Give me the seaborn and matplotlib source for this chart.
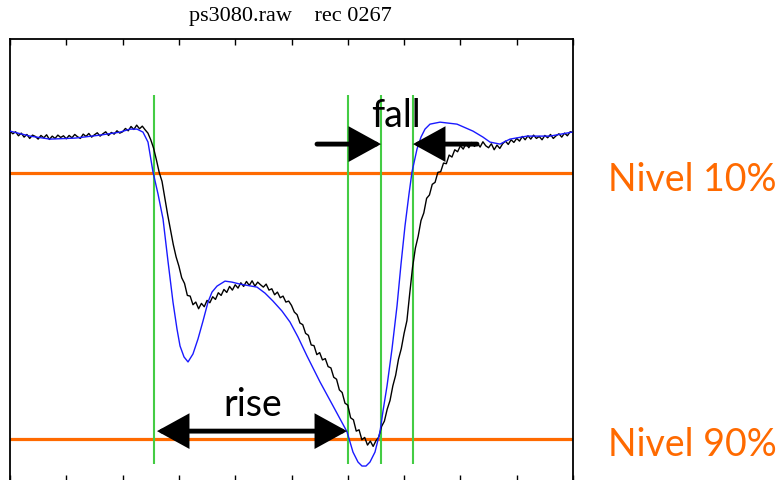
import numpy as np
import pandas as pd
import matplotlib
matplotlib.use("Agg")
import matplotlib.pyplot as plt
from matplotlib.patches import FancyArrowPatch
import seaborn as sns

# fitted model (blue), time in ms, amplitude relative to step height
fit_t = [0.0, 0.355, 0.71, 1.155, 1.599, 1.954, 2.131, 2.256, 2.362, 2.451,
         2.54, 2.629, 2.718, 2.806, 2.895, 2.966, 3.02, 3.091, 3.162, 3.25,
         3.339, 3.428, 3.517, 3.588, 3.677, 3.819, 3.943, 4.085, 4.387, 4.529,
         4.671, 4.831, 4.973, 5.115, 5.275, 5.506, 5.737, 5.986, 6.092, 6.181,
         6.252, 6.323, 6.394, 6.483, 6.572, 6.625, 6.696, 6.785, 6.874, 6.945,
         7.016, 7.087, 7.14, 7.229, 7.3, 7.371, 7.46, 7.638, 7.94, 8.224,
         8.401, 8.526, 8.703, 8.881, 9.183, 9.591, 9.982]
fit_amp = [0.026, 0.011, 0.002, 0.005, 0.014, 0.023, 0.032, 0.032, 0.023, -0.007,
           -0.097, -0.163, -0.238, -0.365, -0.488, -0.569, -0.62, -0.653, -0.668, -0.644,
           -0.599, -0.545, -0.488, -0.458, -0.44, -0.425, -0.428, -0.434, -0.443, -0.461,
           -0.485, -0.515, -0.548, -0.593, -0.65, -0.728, -0.8, -0.878, -0.939, -0.969,
           -0.981, -0.981, -0.969, -0.939, -0.878, -0.816, -0.741, -0.629, -0.5, -0.374,
           -0.259, -0.163, -0.097, -0.028, 0.008, 0.032, 0.047, 0.053, 0.047, 0.026,
           0.008, -0.007, -0.013, 0.002, 0.011, 0.011, 0.023]

# measured trace (black), sampled every 0.05 ms from 0 to 10 ms
meas_amp = [
    0.026, 0.018, 0.024, 0.012, 0.020, 0.008, 0.016, 0.004, 0.014, 0.010,
    0.002, 0.013, 0.006, 0.015, 0.001, 0.011, 0.004, 0.014, 0.007, 0.012,
    0.003, 0.013, 0.006, 0.016, 0.009, 0.004, 0.017, 0.010, 0.019, 0.008,
    0.015, 0.021, 0.011, 0.018, 0.024, 0.013, 0.022, 0.017, 0.027, 0.020,
    0.024, 0.034, 0.027, 0.040, 0.031, 0.044, 0.033, 0.041, 0.030, 0.020,
    0.000, -0.025, -0.060, -0.098, -0.125, -0.175, -0.225, -0.270, -0.315, -0.352,
    -0.380, -0.415, -0.432, -0.468, -0.470, -0.496, -0.488, -0.508, -0.492, -0.502,
    -0.483, -0.490, -0.472, -0.480, -0.460, -0.468, -0.450, -0.459, -0.441, -0.452,
    -0.436, -0.446, -0.430, -0.441, -0.426, -0.438, -0.424, -0.440, -0.428, -0.436,
    -0.443, -0.434, -0.452, -0.448, -0.466, -0.458, -0.475, -0.470, -0.488, -0.485,
    -0.498, -0.518, -0.526, -0.551, -0.556, -0.582, -0.588, -0.617, -0.619, -0.646,
    -0.640, -0.662, -0.658, -0.682, -0.686, -0.714, -0.720, -0.752, -0.760, -0.792,
    -0.798, -0.836, -0.842, -0.876, -0.872, -0.902, -0.895, -0.918, -0.906, -0.922,
    -0.905, -0.894, -0.862, -0.846, -0.810, -0.784, -0.740, -0.708, -0.660, -0.628,
    -0.582, -0.544, -0.462, -0.384, -0.326, -0.290, -0.243, -0.220, -0.176, -0.166,
    -0.134, -0.128, -0.098, -0.096, -0.070, -0.072, -0.046, -0.052, -0.030, -0.036,
    -0.018, -0.028, -0.012, -0.024, -0.008, -0.020, -0.010, -0.022, -0.006, -0.018,
    -0.024, -0.012, -0.030, -0.016, -0.026, -0.012, -0.004, -0.014, 0.000, -0.008,
    0.004, -0.004, 0.010, 0.000, 0.012, 0.002, 0.014, 0.004, 0.010, 0.000,
    0.013, 0.006, 0.016, 0.004, 0.012, 0.018, 0.008, 0.020, 0.012, 0.024, 0.022]
meas_t = np.linspace(0, 10, len(meas_amp))

level_values = [-0.1, -0.9]
level_labels = ["Nivel 10%", "Nivel 90%"]
marker_times = [2.558, 6.003, 6.59, 7.158]   # green crossing markers
rise_span = (2.611, 5.986)
fall_span = (6.59, 7.158)

ORANGE = "#ff6a00"
GREEN = "#44cc44"
BLUE = "#1a1aff"

sns.set_style("white")
plt.rcParams["font.family"] = ["Lato", "DejaVu Sans"]
plt.rcParams["text.color"] = "black"

fig = plt.figure(figsize=(7.79, 4.81), dpi=100)
ax = fig.add_axes([10 / 779, -1 / 481, 563 / 779, 442 / 481])

for y in level_values:
    ax.axhline(y, color=ORANGE, lw=2.3, zorder=1)
ax.vlines(marker_times, -0.975, 0.135, color=GREEN, lw=1.5, zorder=2)

meas = pd.DataFrame({"t": meas_t, "amp": meas_amp})
fit = pd.DataFrame({"t": fit_t, "amp": fit_amp})
sns.lineplot(data=meas, x="t", y="amp", color="black", lw=1.0, ax=ax, zorder=3)
sns.lineplot(data=fit, x="t", y="amp", color=BLUE, lw=1.0, ax=ax, zorder=4)

arrow_kw = dict(mutation_scale=18, color="black", lw=3.5, shrinkA=0, shrinkB=0,
                zorder=5, joinstyle="miter")
ax.add_patch(FancyArrowPatch((rise_span[0], -0.876), (rise_span[1], -0.876),
                             arrowstyle="<|-|>,head_length=1.0,head_width=0.55", **arrow_kw))
ax.add_patch(FancyArrowPatch((5.453, -0.013), (fall_span[0], -0.013),
                             arrowstyle="-|>,head_length=1.0,head_width=0.55", **arrow_kw))
ax.add_patch(FancyArrowPatch((8.295, -0.013), (fall_span[1], -0.013),
                             arrowstyle="-|>,head_length=1.0,head_width=0.55", **arrow_kw))

ax.text(6.847, 0.041, "fall", fontsize=27, color="black", ha="center", va="baseline", zorder=6)
ax.text(4.307, -0.828, "rise", fontsize=27, color="black", ha="center", va="baseline", zorder=6)

label_y = [-0.118, -0.915]
for y, lab in zip(label_y, level_labels):
    ax.text(1.062, y, lab, transform=ax.get_yaxis_transform(), fontsize=27,
            color=ORANGE, ha="left", va="center", clip_on=False)

fig.text(290 / 779, 1 - 17 / 481, "ps3080.raw    rec 0267", family="Liberation Serif",
         fontsize=16, color="black", ha="center", va="center")

ax.set_xlim(0, 10)
ax.set_ylim(-1.026, 0.303)
ax.set_xticks(np.arange(0, 11, 1))
ax.set_yticks([])
ax.set_xticklabels([])
ax.set_xlabel("")
ax.set_ylabel("")
ax.tick_params(axis="x", direction="in", length=4.5, width=1, top=True, bottom=True,
               color="black")
for s in ax.spines.values():
    s.set_color("black")
    s.set_linewidth(1.3)

fig.savefig("out.png", dpi=100)
